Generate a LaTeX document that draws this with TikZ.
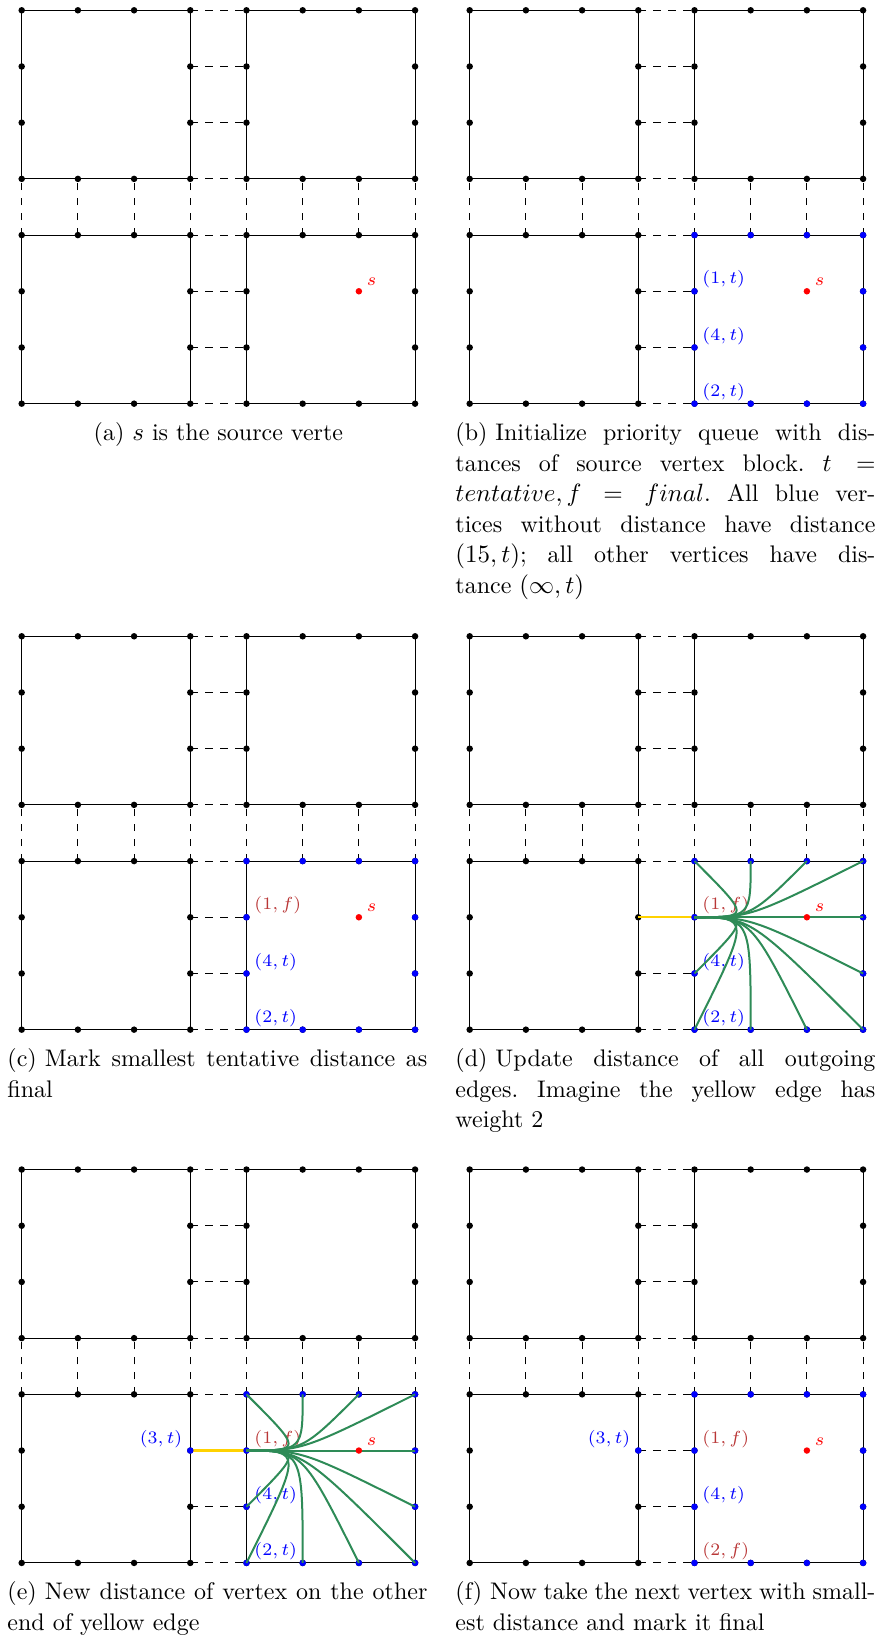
\documentclass[tikz,border=0pt]{standalone}
\usepackage{tikz}

\definecolor{fangreen}{RGB}{46,139,87}
\definecolor{edgeyellow}{RGB}{255,210,0}
\definecolor{finalred}{RGB}{185,55,55}

\tikzset{
  edge/.style={line width=0.4pt},
  link/.style={dashed, line width=0.4pt},
  vtx/.style={fill=black},
  tent/.style={fill=blue},
  lab/.style={above right, inner sep=1pt, xshift=2pt, font=\fontsize{7}{8}\selectfont},
  labl/.style={above left, inner sep=1pt, xshift=-2pt, font=\fontsize{7}{8}\selectfont},
  fan/.style={fangreen, line width=0.8pt},
  light/.style={edgeyellow, line width=0.9pt},
  caption/.style={inner sep=0pt, font=\fontsize{9.6}{12.2}\selectfont\frenchspacing},
}

\newsavebox\capbox
\newcommand{\subcap}[2]{\sbox\capbox{(#1)\ }\hangindent=\wd\capbox\hangafter=1\noindent\usebox\capbox#2}

% four blocks with dashed links, named points <panel>-i-j
\newcommand{\panel}[3]{%
  \begin{scope}[shift={(#2,#3)}]
    \foreach \i in {0,...,7} \foreach \j in {0,...,7} \coordinate (#1-\i-\j) at (\i,\j);
  \end{scope}
  \draw[edge] (#1-0-0) rectangle (#1-3-3) (#1-4-0) rectangle (#1-7-3)
              (#1-0-4) rectangle (#1-3-7) (#1-4-4) rectangle (#1-7-7);
  \foreach \k in {0,...,7} {
    \draw[link] (#1-3-\k) -- (#1-4-\k);
    \draw[link] (#1-\k-3) -- (#1-\k-4);
  }
  \foreach \i in {0,...,7} \foreach \j in {0,3,4,7} \fill[vtx] (#1-\i-\j) circle (1.3pt);
  \foreach \i in {0,3,4,7} \foreach \j in {1,2,5,6} \fill[vtx] (#1-\i-\j) circle (1.3pt);
}
% blue vertices of the source block
\newcommand{\srcblock}[1]{%
  \foreach \i in {4,...,7} \foreach \j in {0,3} \fill[tent] (#1-\i-\j) circle (1.3pt);
  \foreach \i in {4,7} \foreach \j in {1,2} \fill[tent] (#1-\i-\j) circle (1.3pt);
}
\newcommand{\source}[1]{%
  \fill[red] (#1-6-2) circle (1.3pt);
  \node[lab, red, yshift=1pt] (#1-s) at (#1-6-2) {$s$};
}
\newcommand{\fanout}[1]{%
  \foreach \tgt in {4-3,5-3,6-3,7-3,7-2,7-1,7-0,6-0,5-0,4-0,4-1}
    \draw[fan] (#1-4-2) .. controls (#1-5-2) .. (#1-\tgt);
}

\begin{document}
\begin{tikzpicture}[x=22.48pt, y=22.48pt]
  \useasboundingbox (-0.386,-21.964) rectangle (15.326,7.183);

  % (a)
  \panel{a}{0}{0}
  \source{a}
  \node[caption, anchor=base] (cap-a) at (3.5,-0.658) {(a) $s$ is the source verte};

  % (b)
  \panel{b}{7.972}{0}
  \srcblock{b}
  \node[lab, blue] (b-l1) at (b-4-2) {$(1,t)$};
  \node[lab, blue] (b-l4) at (b-4-1) {$(4,t)$};
  \node[lab, blue] (b-l2) at (b-4-0) {$(2,t)$};
  \source{b}
  \node[caption, text width=168pt, align=justify, anchor=base west] (cap-b) at (7.710,-0.658)
    {\subcap{b}{Initialize priority queue with dis-\linebreak tances of source vertex block. $t =$\linebreak
     $tentative, f = final$. All blue ver-\linebreak tices without distance have distance\linebreak
     $(15, t)$; all other vertices have dis-\linebreak tance $(\infty, t)$}};

  % (c)
  \panel{c}{0}{-11.139}
  \srcblock{c}
  \node[lab, finalred] (c-l1) at (c-4-2) {$(1,f)$};
  \node[lab, blue] (c-l4) at (c-4-1) {$(4,t)$};
  \node[lab, blue] (c-l2) at (c-4-0) {$(2,t)$};
  \source{c}
  \node[caption, text width=168pt, align=justify, anchor=base west] (cap-c) at (-0.262,-11.797)
    {\subcap{c}{Mark smallest tentative distance as\linebreak final}};

  % (d)
  \panel{d}{7.972}{-11.139}
  \draw[light] (d-3-2) -- (d-4-2);
  \srcblock{d}
  \node[lab, finalred] (d-l1) at (d-4-2) {$(1,f)$};
  \node[lab, blue] (d-l4) at (d-4-1) {$(4,t)$};
  \node[lab, blue] (d-l2) at (d-4-0) {$(2,t)$};
  \fanout{d}
  \source{d}
  \node[caption, text width=168pt, align=justify, anchor=base west] (cap-d) at (7.710,-11.797)
    {\subcap{d}{Update distance of all outgoing\linebreak edges. Imagine the yellow edge has\linebreak weight 2}};

  % (e)
  \panel{e}{0}{-20.628}
  \draw[light] (e-3-2) -- (e-4-2);
  \srcblock{e}
  \fill[tent] (e-3-2) circle (1.3pt);
  \node[labl, blue] (e-l3) at (e-3-2) {$(3,t)$};
  \node[lab, finalred] (e-l1) at (e-4-2) {$(1,f)$};
  \node[lab, blue] (e-l4) at (e-4-1) {$(4,t)$};
  \node[lab, blue] (e-l2) at (e-4-0) {$(2,t)$};
  \fanout{e}
  \source{e}
  \node[caption, text width=168pt, align=justify, anchor=base west] (cap-e) at (-0.262,-21.286)
    {\subcap{e}{New distance of vertex on the other\linebreak end of yellow edge}};

  % (f)
  \panel{f}{7.972}{-20.628}
  \srcblock{f}
  \fill[tent] (f-3-2) circle (1.3pt);
  \node[labl, blue] (f-l3) at (f-3-2) {$(3,t)$};
  \node[lab, finalred] (f-l1) at (f-4-2) {$(1,f)$};
  \node[lab, blue] (f-l4) at (f-4-1) {$(4,t)$};
  \node[lab, finalred] (f-l2) at (f-4-0) {$(2,f)$};
  \source{f}
  \node[caption, text width=168pt, align=justify, anchor=base west] (cap-f) at (7.710,-21.286)
    {\subcap{f}{Now take the next vertex with small-\linebreak est distance and mark it final}};
\end{tikzpicture}
\end{document}
